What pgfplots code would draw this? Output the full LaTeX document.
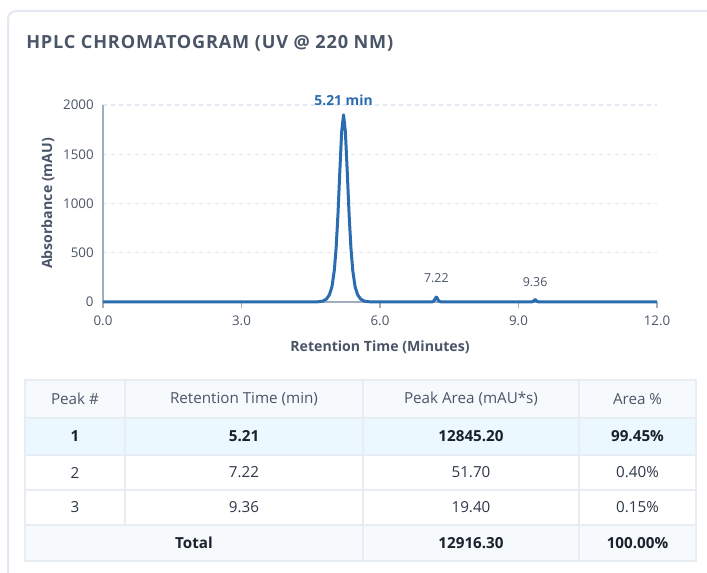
\documentclass[border=0pt]{standalone}
\usepackage{fontspec}
\setmainfont{Open Sans}
\usepackage{pgfplots}
\pgfplotsset{compat=1.18}
\definecolor{lineblue}{HTML}{2B6CB0}
\definecolor{axisgray}{HTML}{A0AEC0}
\definecolor{gridgray}{HTML}{E2E8F0}
\definecolor{textgray}{HTML}{4A5568}
\definecolor{darktext}{HTML}{1A202C}
\definecolor{rowtext}{HTML}{2D3748}
\definecolor{headbg}{HTML}{F7FAFC}
\definecolor{hlbg}{HTML}{EBF8FF}
\definecolor{cellline}{HTML}{E8EDF3}
\begin{document}
\begin{tikzpicture}
\begin{scope}[x=0.75pt,y=-0.75pt]
\useasboundingbox (0,0) rectangle (707,573);
\fill[white] (0,0) rectangle (707,573);
\draw[gridgray, line width=1.5pt, rounded corners=6pt] (8,600) -- (8,11) -- (740,11);
\node[anchor=base west, inner sep=0pt, text=textgray, font=\fontsize{13.6}{15}\selectfont\bfseries\addfontfeatures{LetterSpace=4.5}] at (26,49) {HPLC CHROMATOGRAM (UV @ 220 NM)};
% table backgrounds
\fill[headbg] (25,380) rectangle (696,418);
\fill[hlbg] (25,418) rectangle (696,455);
\fill[white] (25,455) rectangle (696,525);
\fill[headbg] (25,525) rectangle (696,561);
\draw[cellline, line width=1.2pt] (25,380) rectangle (696,561);
\foreach \yy in {418,455,490,525} \draw[cellline, line width=1.2pt] (25,\yy) -- (696,\yy);
\foreach \xx in {125,363,579} \draw[cellline, line width=1.2pt] (\xx,380) -- (\xx,525);
\draw[cellline, line width=1.2pt] (363,525) -- (363,561);
\draw[cellline, line width=1.2pt] (579,525) -- (579,561);
\tikzset{cell/.style={anchor=center, inner sep=0pt, font=\fontsize{11.4}{13}\selectfont},
  bcell/.style={cell, text=darktext, font=\fontsize{11.4}{13}\selectfont\bfseries}}
\node[cell, text=textgray] at (75,399) {Peak \#};
\node[cell, text=textgray] at (244,399) {Retention Time (min)};
\node[cell, text=textgray] at (471,399) {Peak Area (mAU*s)};
\node[cell, text=textgray] at (637.5,399) {Area \%};
\node[bcell] at (75,436.5) {1};
\node[bcell] at (244,436.5) {5.21};
\node[bcell] at (471,436.5) {12845.20};
\node[bcell] at (637.5,436.5) {99.45\%};
\node[cell, text=rowtext] at (75,472.5) {2};
\node[cell, text=rowtext] at (244,472.5) {7.22};
\node[cell, text=rowtext] at (471,472.5) {51.70};
\node[cell, text=rowtext] at (637.5,472.5) {0.40\%};
\node[cell, text=rowtext] at (75,507.5) {3};
\node[cell, text=rowtext] at (244,507.5) {9.36};
\node[cell, text=rowtext] at (471,507.5) {19.40};
\node[cell, text=rowtext] at (637.5,507.5) {0.15\%};
\node[bcell] at (194,543) {Total};
\node[bcell] at (471,543) {12916.30};
\node[bcell] at (637.5,543) {100.00\%};
\end{scope}
\begin{axis}[
  at={(77.25pt,-226.5pt)}, anchor=south west,
  scale only axis, width=415.5pt, height=147.75pt,
  xmin=0, xmax=12, ymin=0, ymax=2000,
  clip=false,
  axis x line=bottom, axis y line=left,
  axis line style={-, axisgray, line width=1.5pt},
  xtick={0,3,6,9,12}, xticklabels={0.0,3.0,6.0,9.0,12.0},
  ytick={0,500,1000,1500,2000},
  /pgf/number format/1000 sep={},
  /pgf/number format/assume math mode=true,
  tick align=outside,
  xtick style={axisgray, line width=1.2pt},
  major tick length=4.5pt,
  ytick style={draw=none},
  ymajorgrids, grid style={gridgray, dash pattern=on 3pt off 3pt, line width=0.8pt},
  tick label style={text=textgray, font=\fontsize{10}{11}\selectfont},
  xticklabel style={yshift=-2pt},
  yticklabel style={xshift=1pt},
  xlabel={Retention Time (Minutes)}, ylabel={Absorbance (mAU)},
  label style={text=textgray, font=\fontsize{10.6}{12}\selectfont\bfseries},
  xlabel style={at={(axis description cs:0.5,-0.2284)}, anchor=center},
  ylabel style={at={(axis description cs:-0.0993,0.5)}, anchor=center},
]
\addplot[lineblue, line width=2.25pt, line join=round] coordinates {
(0,0) (4.50,0) (4.64,1.6) (4.76,8.7) (4.84,30) (4.905,74) (4.96,156) (5.01,320) (5.05,550) (5.09,895) (5.13,1329) (5.17,1731) (5.21,1900) (5.25,1731) (5.29,1329) (5.33,895) (5.37,550) (5.41,320) (5.46,156) (5.515,74) (5.58,30) (5.66,8.7) (5.78,1.6) (5.92,0)
(7.12,0) (7.17,12) (7.20,38) (7.22,50) (7.24,38) (7.27,12) (7.32,0)
(9.27,0) (9.32,6) (9.345,19) (9.36,25) (9.375,19) (9.40,6) (9.45,0) (12,0)
};
\node[text=lineblue, font=\fontsize{10.4}{12}\selectfont\bfseries] at (axis cs:5.21,2050) {5.21 min};
\node[text=textgray, font=\fontsize{9.3}{11}\selectfont] at (axis cs:7.22,243) {7.22};
\node[text=textgray, font=\fontsize{9.3}{11}\selectfont] at (axis cs:9.36,203) {9.36};
\end{axis}
\end{tikzpicture}
\end{document}
